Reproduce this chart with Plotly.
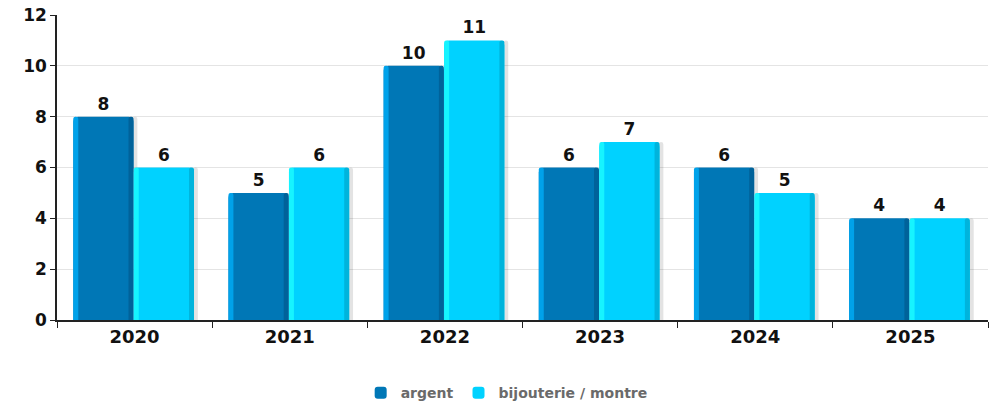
import plotly.graph_objects as go

years = ["2020", "2021", "2022", "2023", "2024", "2025"]
argent = [8, 5, 10, 6, 6, 4]
bijouterie = [6, 6, 11, 7, 5, 4]

series = [
    # name, values, body colour, left highlight, right shade, offset
    ("argent", argent, "#0077b6", "#00a2ea", "#00629a", -0.395),
    ("bijouterie / montre", bijouterie, "#00d2ff", "#16f4ff", "#00b4dc", -0.005),
]
bar_w = 0.388
edge_w = 0.032

fig = go.Figure()
font_family = "DejaVu Sans, Verdana, sans-serif"

for name, vals, body, light, shade, off in series:
    # soft drop shadow on the right side
    fig.add_trace(go.Bar(
        x=years, y=vals, offset=off + bar_w - 0.005, width=0.03,
        marker=dict(color="rgba(0,0,0,0.11)", line_width=0, cornerradius=3),
        showlegend=False, hoverinfo="skip"))
    # main body of the bar with its value label
    fig.add_trace(go.Bar(
        x=years, y=vals, name=name, offset=off, width=bar_w,
        marker=dict(color=body, line_width=0, cornerradius=5),
        text=vals, texttemplate="%{y}", textposition="outside",
        textfont=dict(family=font_family, size=17, color="#111111", weight="bold"),
        cliponaxis=False, hoverinfo="skip"))
    # lighter left edge
    fig.add_trace(go.Bar(
        x=years, y=vals, offset=off, width=edge_w,
        marker=dict(color=light, line_width=0, cornerradius=3),
        showlegend=False, hoverinfo="skip", textposition="none"))
    # darker right edge
    fig.add_trace(go.Bar(
        x=years, y=vals, offset=off + bar_w - edge_w, width=edge_w,
        marker=dict(color=shade, line_width=0, cornerradius=3),
        showlegend=False, hoverinfo="skip", textposition="none"))

fig.update_layout(
    width=994, height=409,
    barmode="overlay",
    plot_bgcolor="white", paper_bgcolor="white",
    margin=dict(l=57, r=6, t=15, b=89, autoexpand=False),
    font=dict(family=font_family, color="#111111"),
    showlegend=True,
    legend=dict(
        orientation="h", x=0.483, xanchor="center", y=-0.24, yanchor="middle",
        font=dict(family=font_family, size=14, color="#6a6a6a", weight="bold"),
        itemwidth=30, traceorder="normal"),
    hovermode=False,
)

fig.update_xaxes(
    type="category", categoryorder="array", categoryarray=years,
    showline=True, linecolor="#222222", linewidth=1.5,
    ticks="outside", tickson="boundaries", ticklen=6, tickcolor="#222222",
    tickfont=dict(family=font_family, size=18, color="#111111", weight="bold"),
    showgrid=False, range=[-0.5, 5.5], automargin=False,
)
fig.update_yaxes(
    range=[0, 12], dtick=2,
    showline=True, linecolor="#222222", linewidth=1.5,
    ticks="outside", ticklen=5, tickcolor="#222222",
    tickfont=dict(family=font_family, size=17, color="#111111", weight="bold"),
    showgrid=True, gridcolor="#e4e4e4", gridwidth=1,
    zeroline=False, automargin=False,
)

fig.write_html("out.html")
